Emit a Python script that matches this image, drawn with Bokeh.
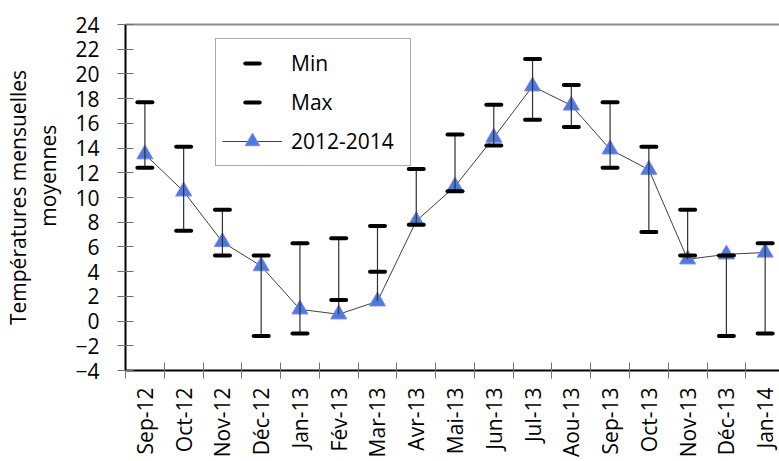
import numpy as np
from bokeh.plotting import figure
from bokeh.models import (Range1d, FixedTicker, LinearAxis, Legend, LegendItem,
                          ColumnDataSource)
from bokeh.embed import file_html
from bokeh.resources import INLINE

months = ["Sep-12", "Oct-12", "Nov-12", "Déc-12", "Jan-13", "Fév-13", "Mar-13",
          "Avr-13", "Mai-13", "Jun-13", "Jul-13", "Aou-13", "Sep-13", "Oct-13",
          "Nov-13", "Déc-13", "Jan-14"]
t_min = [12.4, 7.3, 5.3, -1.2, -1.0, 1.7, 4.0, 7.8, 10.5, 14.2, 16.3, 15.7,
         12.4, 7.2, 5.3, -1.2, -1.0]
t_max = [17.7, 14.1, 9.0, 5.3, 6.3, 6.7, 7.7, 12.3, 15.1, 17.5, 21.2, 19.1,
         17.7, 14.1, 9.0, 5.3, 6.3]
t_mean = [13.5, 10.5, 6.4, 4.45, 0.95, 0.55, 1.6, 8.1, 10.9, 14.85, 19.0, 17.45,
          13.9, 12.25, 5.0, 5.4, 5.55]
y_ticks = list(range(-4, 25, 2))

FONT = "Open Sans"
n = len(months)
xc = np.arange(n) + 0.5
lo = np.minimum(np.array(t_min), np.array(t_mean))
hi = np.maximum(np.array(t_max), np.array(t_mean))

src = ColumnDataSource(dict(x=xc, tmin=t_min, tmax=t_max, tmean=t_mean, lo=lo, hi=hi))

p = figure(width=779, height=461, output_backend="svg", toolbar_location=None,
           x_range=Range1d(0, 16.87), y_range=Range1d(-4, 24),
           min_border_left=122, min_border_top=24, min_border_right=0,
           min_border_bottom=91)
p.outline_line_color = None
p.xgrid.visible = False
p.ygrid.visible = False
p.background_fill_color = "white"
p.border_fill_color = "white"

line_r = p.line("x", "tmean", source=src, line_color="#404040", line_width=1)
tri_r = p.scatter("x", "tmean", source=src, marker="triangle", size=16,
                  fill_color="#4A7BE0", line_color="#8080F0", line_width=1)
p.segment(x0="x", y0="lo", x1="x", y1="hi", source=src,
          line_color="#303030", line_width=1.2)
min_r = p.scatter("x", "tmin", source=src, marker="dash", size=15,
                  line_color="black", line_width=4, line_cap="round")
max_r = p.scatter("x", "tmax", source=src, marker="dash", size=15,
                  line_color="black", line_width=4, line_cap="round")

# x axis
xa = p.xaxis[0]
xa.ticker = FixedTicker(ticks=list(xc), minor_ticks=list(range(0, n + 1)))
xa.major_label_overrides = {float(v): m for v, m in zip(xc, months)}
xa.major_label_orientation = np.pi / 2
xa.major_tick_line_color = None
xa.major_tick_out = 8
xa.minor_tick_in = 8
xa.minor_tick_out = 8
xa.minor_tick_line_color = "#707070"
xa.minor_tick_line_width = 1
xa.axis_line_color = "black"
xa.axis_line_width = 2
xa.major_label_standoff = 9
xa.major_label_text_font = FONT
xa.major_label_text_font_size = "21px"
xa.major_label_text_color = "black"

# y axis
ya = p.yaxis[0]
ya.ticker = FixedTicker(ticks=y_ticks, minor_ticks=[])
ya.major_tick_in = 8
ya.major_tick_out = 8
ya.major_tick_line_color = "#707070"
ya.major_tick_line_width = 1
ya.axis_line_color = "black"
ya.axis_line_width = 2
ya.major_label_standoff = 18
ya.major_label_text_font = FONT
ya.major_label_text_font_size = "21px"
ya.major_label_text_color = "black"
ya.axis_label = "Températures mensuelles\n" + "\u00a0" * 8 + "moyennes"
ya.axis_label_text_font = FONT
ya.axis_label_text_font_size = "21px"
ya.axis_label_text_font_style = "normal"
ya.axis_label_text_color = "black"
ya.axis_label_text_line_height = 1.1
ya.axis_label_standoff = 10

# top border line
top = LinearAxis(ticker=FixedTicker(ticks=[], minor_ticks=[]),
                 axis_line_color="#8C8C8C", axis_line_width=2,
                 major_tick_out=0, minor_tick_out=0, major_tick_in=0,
                 minor_tick_in=0, major_label_text_font_size="0px",
                 major_label_standoff=0)
p.add_layout(top, "above")

legend = Legend(items=[LegendItem(label="Min", renderers=[min_r]),
                       LegendItem(label="Max", renderers=[max_r]),
                       LegendItem(label="2012-2014", renderers=[line_r, tri_r])],
                location=(90, 204), padding=6, spacing=3,
                glyph_width=60, glyph_height=36, label_standoff=9,
                label_width=113, label_text_font=FONT,
                label_text_font_size="21px", label_text_color="black",
                border_line_color="#555555", border_line_width=1,
                background_fill_color="white", background_fill_alpha=1,
                margin=0)
p.add_layout(legend, "center")

open("out.html", "w").write(file_html(p, INLINE))
